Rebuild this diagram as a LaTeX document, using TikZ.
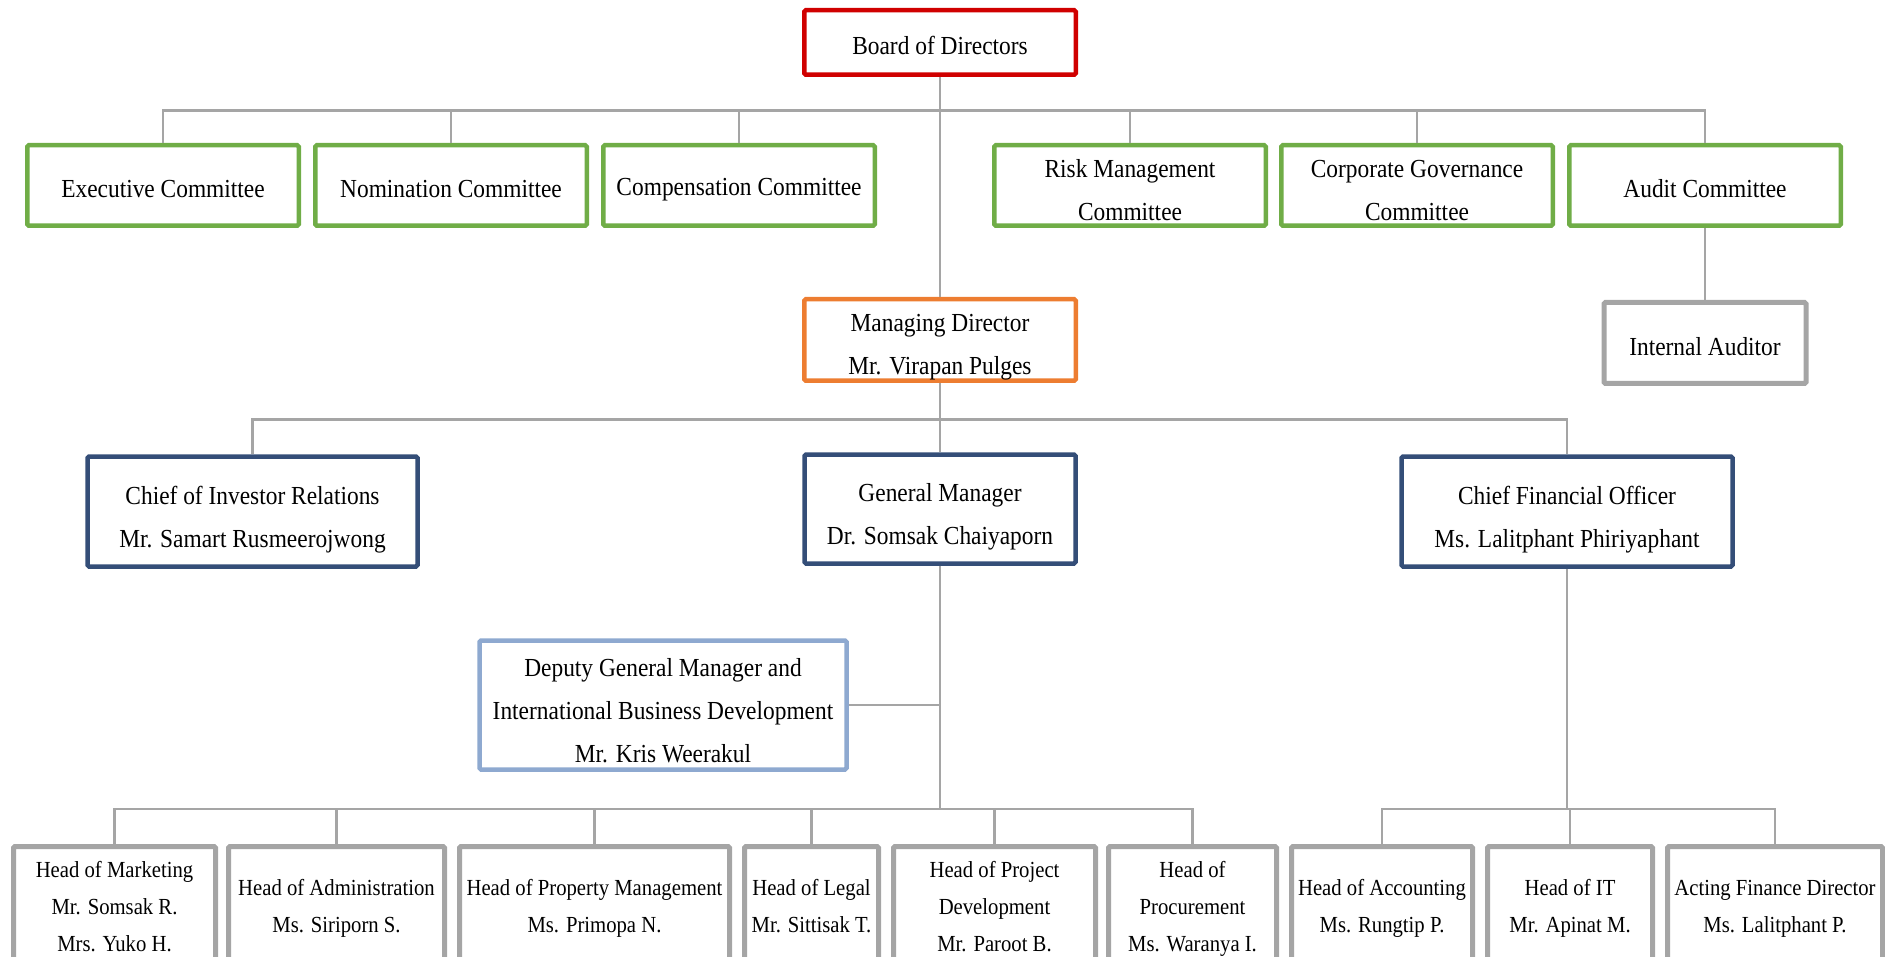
\documentclass[tikz,border=0pt]{standalone}
\usepackage{fontspec}
\setmainfont{Liberation Serif}[FakeStretch=0.9]
\usetikzlibrary{positioning}
\definecolor{bdred}{HTML}{D00000}
\definecolor{cmgreen}{HTML}{70AD47}
\definecolor{mdorange}{HTML}{ED7D31}
\definecolor{mgblue}{HTML}{344E78}
\definecolor{dpblue}{HTML}{8EA9D0}
\definecolor{lngray}{HTML}{A5A5A5}

\begin{document}
\begin{tikzpicture}[
  x=1pt, y=-1pt,
  font=\fontsize{26}{43}\selectfont,
  lift/.style={execute at begin node=\rule{0pt}{#1}},
  bx/.style={draw, fill=white, rounded corners=1.5pt, align=center, inner sep=0pt, line width=4.5pt, lift=0.97em},
  brd/.style={bx, draw=bdred, minimum width=271.5pt, minimum height=64.5pt},
  cmt/.style={bx, draw=cmgreen, minimum width=271.5pt, minimum height=80.5pt},
  mdir/.style={bx, draw=mdorange, minimum width=271.5pt, minimum height=81.5pt, lift=2.88em},
  mgr/.style={bx, draw=mgblue, minimum height=110pt, lift=2.95em},
  dpty/.style={bx, draw=dpblue, minimum width=367pt, minimum height=129pt, lift=4.4em},
  aud/.style={bx, draw=lngray, line width=5pt, minimum width=202pt, minimum height=81pt},
  hd/.style={bx, draw=lngray, line width=5pt, minimum height=119pt, font=\fontsize{23}{37}\selectfont, text depth=0pt},
  link/.style={draw=lngray, line width=2.5pt}]

\useasboundingbox (0,0) rectangle (1885,957);
\clip (0,0) rectangle (1885,957);

% ===== board + committees =====
\node[brd] (board) at (940,42.5) {Board of Directors};
\node[cmt] (exc)  at (163,185.5)  {Executive Committee};
\node[cmt] (nom)  at (451,185.5)  {Nomination Committee};
\node[cmt] (cmp)  at (739,185.5)  {Compensation Committee};
\node[cmt, lift=2.72em] (risk) at (1130,185.5) {Risk Management\\Committee};
\node[cmt, lift=2.72em] (cg)   at (1417,185.5) {Corporate Governance\\Committee};
\node[cmt] (audc) at (1705,185.5) {Audit Committee};
\node[aud] (ia)   at (1705,343)   {Internal Auditor};

% ===== managing director + chiefs =====
\node[mdir] (md) at (940,340) {Managing Director\\Mr. Virapan Pulges};
\node[mgr, minimum width=330pt] (cir) at (252.5,511.5) {Chief of Investor Relations\\Mr. Samart Rusmeerojwong};
\node[mgr, minimum width=271pt, minimum height=109pt, lift=2.8em] (gm) at (940,509) {General Manager\\Dr. Somsak Chaiyaporn};
\node[mgr, minimum width=331pt] (cfo) at (1567,511.5) {Chief Financial Officer\\Ms. Lalitphant Phiriyaphant};
\node[dpty] (dgm) at (663,705) {Deputy General Manager and\\International Business Development\\Mr. Kris Weerakul};

% ===== heads (y=906) =====
\node[hd, minimum width=202pt] (mkt) at (114.5,906)  {Head of Marketing\\Mr. Somsak R.\\Mrs. Yuko H.};
\node[hd, minimum width=216pt] (adm) at (336.5,906)  {Head of Administration\\Ms. Siriporn S.};
\node[hd, minimum width=270pt] (prp) at (594.5,906)  {Head of Property Management\\Ms. Primopa N.};
\node[hd, minimum width=134pt] (lgl) at (811.5,906)  {Head of Legal\\Mr. Sittisak T.};
\node[hd, minimum width=202pt] (prj) at (994.5,906)  {Head of Project\\Development\\Mr. Paroot B.};
\node[hd, minimum width=168pt] (prc) at (1192.5,906) {Head of\\Procurement\\Ms. Waranya I.};
\node[hd, minimum width=181pt] (acc) at (1382,906)   {Head of Accounting\\Ms. Rungtip P.};
\node[hd, minimum width=165pt] (it)  at (1570,906)   {Head of IT\\Mr. Apinat M.};
\node[hd, minimum width=215pt] (afd) at (1775,906)   {Acting Finance Director\\Ms. Lalitphant P.};

% ===== bars =====
\coordinate (bar1) at (940,110.6);
\coordinate (bar2) at (940,419.6);
\coordinate (bar3) at (940,809);
\coordinate (bar4) at (1567,809);

% ===== edges =====
\draw[link] (board) -- (md);
\foreach \n in {exc,nom,cmp,risk,cg,audc}
  \draw[link] (\n.north) |- (bar1);
\draw[link] (audc) -- (ia);
\draw[link] (md) -- (gm);
\draw[link] (cir.north) |- (bar2);
\draw[link] (cfo.north) |- (bar2);
\draw[link] (gm.south) -- (bar3);
\draw[link] (dgm.east) -- (dgm.east -| gm.south);
\foreach \n in {mkt,adm,prp,lgl,prj,prc}
  \draw[link] (\n.north) |- (bar3);
\draw[link] (cfo.south) -- (bar4);
\foreach \n in {acc,it,afd}
  \draw[link] (\n.north) |- (bar4);

\end{tikzpicture}
\end{document}
